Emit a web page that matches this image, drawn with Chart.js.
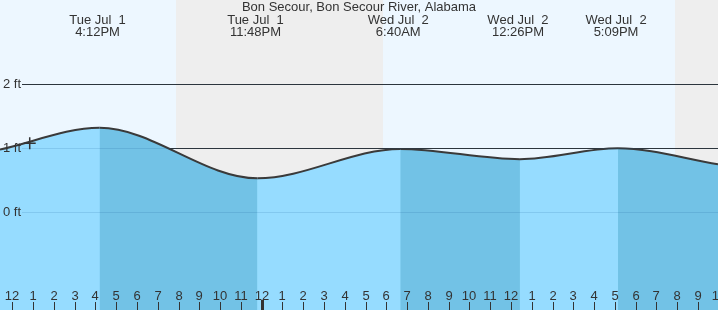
<!DOCTYPE html>
<html>
<head>
<meta charset="UTF-8">
<title>Bon Secour tide</title>
<script src="https://cdn.jsdelivr.net/npm/chart.js"></script>
<style>
body{margin:0; background:#fff;}
#wrap{width:718px; height:310px;}
</style>
</head>
<body>
<div id="wrap"><canvas id="tideChart" width="718" height="310"></canvas></div>
<script>
// hours counted from Tue Jul 1, 12 noon
var tideTimes = [-0.59, 4.2, 11.8, 18.67, 24.43, 29.15, 33.96];
var tideFeet  = [0.98, 1.32, 0.53, 0.99, 0.83, 1.00, 0.75];

var extremeTimes = [4.2, 11.8, 18.67, 24.43, 29.15];
var extremeDays  = ['Tue Jul  1', 'Tue Jul  1', 'Wed Jul  2', 'Wed Jul  2', 'Wed Jul  2'];
var extremeClock = ['4:12PM', '11:48PM', '6:40AM', '12:26PM', '5:09PM'];

var nowTime = [0.84];
var nowFeet = [1.08];

var nightStart = [7.87, 31.88];
var nightEnd   = [17.83, 40];

var feetTicks  = [2, 1, 0];
var feetLabels = ['2 ft', '1 ft', '0 ft'];

var hourLabels = ['12','1','2','3','4','5','6','7','8','9','10','11',
                  '12','1','2','3','4','5','6','7','8','9','10','11',
                  '12','1','2','3','4','5','6','7','8','9','10'];
var midnightIndex = 12;

var chartTitle = 'Bon Secour, Bon Secour River, Alabama';

var lightBlue = '#96dcff';
var darkBlue  = '#72c2e6';
var ink = '#333';
var font13 = '13px "Liberation Sans", Arial, sans-serif';

var tidePoints = tideTimes.map(function(t, i){ return {x: t, y: tideFeet[i]}; });
var nowPoints  = nowTime.map(function(t, i){ return {x: t, y: nowFeet[i]}; });

var decor = {
  id: 'decor',
  beforeDraw: function(chart){
    var c = chart.ctx, a = chart.chartArea, xs = chart.scales.x;
    c.save();
    c.fillStyle = '#edf7ff';
    c.fillRect(a.left, a.top, a.right - a.left, a.bottom - a.top);
    c.fillStyle = '#eeeeee';
    for (var i = 0; i < nightStart.length; i++) {
      var x1 = Math.round(xs.getPixelForValue(nightStart[i]));
      var x2 = Math.round(xs.getPixelForValue(nightEnd[i]));
      c.fillRect(x1, a.top, x2 - x1, a.bottom - a.top);
    }
    c.restore();
  },
  beforeDatasetsDraw: function(chart){
    var c = chart.ctx, a = chart.chartArea, ys = chart.scales.y;
    c.save();
    c.strokeStyle = ink;
    c.lineWidth = 1;
    feetTicks.forEach(function(v){
      var y = Math.round(ys.getPixelForValue(v)) + 0.5;
      c.beginPath(); c.moveTo(22, y); c.lineTo(a.right, y); c.stroke();
    });
    c.restore();
  },
  afterDatasetsDraw: function(chart){
    var c = chart.ctx, a = chart.chartArea, xs = chart.scales.x, ys = chart.scales.y;
    c.save();
    // grid seen through the water
    c.strokeStyle = 'rgba(0,70,130,0.13)';
    c.lineWidth = 1;
    feetTicks.forEach(function(v){
      var y = Math.round(ys.getPixelForValue(v)) + 0.5;
      c.beginPath(); c.moveTo(22, y); c.lineTo(a.right, y); c.stroke();
    });

    c.fillStyle = ink;
    c.font = font13;
    c.textBaseline = 'middle';
    c.textAlign = 'left';
    feetTicks.forEach(function(v, i){
      c.fillText(feetLabels[i], 3, ys.getPixelForValue(v));
    });

    c.textAlign = 'center';
    c.fillText(chartTitle, 359, 7);
    extremeTimes.forEach(function(t, i){
      var x = xs.getPixelForValue(t);
      c.fillText(extremeDays[i], x - 2, 20);
      c.fillText(extremeClock[i], x - 2, 32);
    });

    // hour ticks along the bottom
    hourLabels.forEach(function(lab, h){
      var x = Math.round(xs.getPixelForValue(h));
      c.fillText(lab, x, 296);
      if (h === midnightIndex) {
        c.fillRect(x - 1, 300, 3, a.bottom - 300);
      } else {
        c.fillRect(x, 302, 1, a.bottom - 302);
      }
    });
    c.restore();
  }
};

var ctx = document.getElementById('tideChart');
new Chart(ctx, {
  type: 'line',
  data: {
    datasets: [{
      label: 'now',
      data: nowPoints,
      showLine: false,
      fill: false,
      pointStyle: 'cross',
      pointRadius: 6,
      borderColor: ink,
      borderWidth: 1.5
    }, {
      label: 'tide',
      data: tidePoints,
      fill: 'start',
      backgroundColor: lightBlue,
      borderColor: '#3a3a3a',
      borderWidth: 2,
      pointRadius: 0,
      cubicInterpolationMode: 'monotone',
      segment: {
        backgroundColor: function(s){ return s.p0.parsed.y > s.p1.parsed.y ? darkBlue : lightBlue; }
      }
    }, {
      label: 'water',
      data: tidePoints,
      fill: 'start',
      backgroundColor: lightBlue,
      borderWidth: 0,
      pointRadius: 0,
      cubicInterpolationMode: 'monotone'
    }]
  },
  options: {
    responsive: false,
    animation: false,
    devicePixelRatio: 1,
    layout: { padding: 0, autoPadding: false },
    plugins: { legend: { display: false }, tooltip: { enabled: false }, title: { display: false } },
    scales: {
      x: { type: 'linear', min: -0.59, max: 33.96, display: false },
      y: { type: 'linear', min: -1.527, max: 3.317, display: false }
    }
  },
  plugins: [decor]
});
</script>
</body>
</html>
